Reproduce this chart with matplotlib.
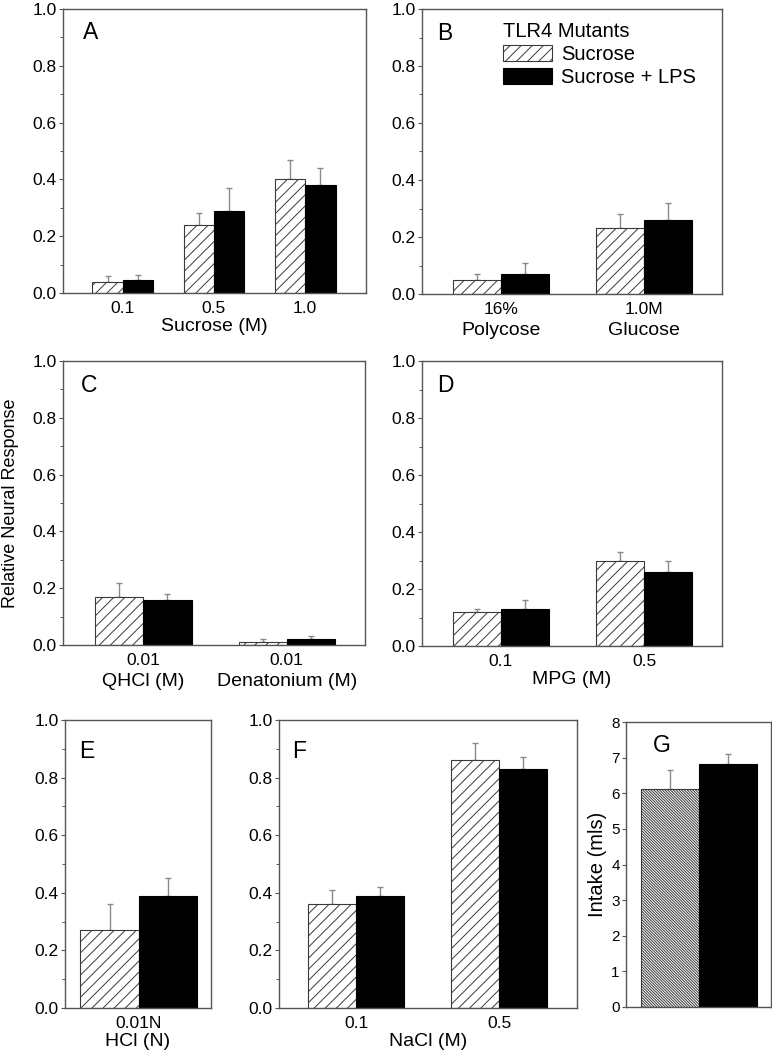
import numpy as np
import matplotlib
matplotlib.use('Agg')
import matplotlib.pyplot as plt
from matplotlib.ticker import MultipleLocator, FormatStrFormatter

plt.rcParams['font.family'] = ['Liberation Sans', 'DejaVu Sans']
plt.rcParams['hatch.linewidth'] = 0.7

# dados
a_labels = ['0.1', '0.5', '1.0']
a_suc = [0.04, 0.24, 0.40]
a_suc_err = [0.02, 0.04, 0.07]
a_lps = [0.045, 0.29, 0.38]
a_lps_err = [0.02, 0.08, 0.06]

b_top = ['16%', '1.0M']
b_bottom = ['Polycose', 'Glucose']
b_suc = [0.05, 0.23]
b_suc_err = [0.02, 0.05]
b_lps = [0.07, 0.26]
b_lps_err = [0.04, 0.06]

c_top = ['0.01', '0.01']
c_bottom = ['QHCl (M)', 'Denatonium (M)']
c_suc = [0.17, 0.01]
c_suc_err = [0.05, 0.01]
c_lps = [0.16, 0.02]
c_lps_err = [0.02, 0.01]

d_labels = ['0.1', '0.5']
d_suc = [0.12, 0.30]
d_suc_err = [0.01, 0.03]
d_lps = [0.13, 0.26]
d_lps_err = [0.03, 0.04]

e_labels = ['0.01N']
e_suc = [0.27]
e_suc_err = [0.09]
e_lps = [0.39]
e_lps_err = [0.06]

f_labels = ['0.1', '0.5']
f_suc = [0.36, 0.86]
f_suc_err = [0.05, 0.06]
f_lps = [0.39, 0.83]
f_lps_err = [0.03, 0.04]

g_suc = [6.13]
g_suc_err = [0.52]
g_lps = [6.83]
g_lps_err = [0.27]

W, H = 772, 1050
fig = plt.figure(figsize=(W / 100, H / 100), dpi=100)


def caixa(l, t, r, b):
    return [l / W, 1 - b / H, (r - l) / W, (b - t) / H]


def estilo(ax):
    for s in ax.spines.values():
        s.set_color('#555555')
        s.set_linewidth(1.0)


def painel(pos, xs, suc, suc_err, lps, lps_err, largura, xlim, letra, dxy, hatch='///'):
    ax = fig.add_axes(caixa(*pos))
    xs = np.array(xs, dtype=float)
    b1 = ax.bar(xs - largura / 2, suc, largura, facecolor='white', edgecolor='#3a3a3a',
                linewidth=0.8, hatch=hatch, label='Sucrose', zorder=2)
    b2 = ax.bar(xs + largura / 2, lps, largura, facecolor='black', edgecolor='black',
                linewidth=0.8, label='Sucrose + LPS', zorder=2)
    zeros = np.zeros(len(xs))
    ax.errorbar(xs - largura / 2, suc, yerr=[zeros, suc_err], fmt='none', ecolor='#8a8a8a',
                elinewidth=1.0, capsize=2, capthick=1.0, zorder=1)
    ax.errorbar(xs + largura / 2, lps, yerr=[zeros, lps_err], fmt='none', ecolor='#8a8a8a',
                elinewidth=1.0, capsize=2, capthick=1.0, zorder=1)
    ax.set_xlim(*xlim)
    ax.set_xticks(xs)
    ax.tick_params(axis='x', length=0, pad=6, labelsize=12.5)
    estilo(ax)
    pw = pos[2] - pos[0]
    ph = pos[3] - pos[1]
    ax.text(dxy[0] / pw, 1 - dxy[1] / ph, letra, transform=ax.transAxes,
            ha='center', va='center', fontsize=16.5)
    return ax, b1, b2


def eixo_y(ax):
    ax.set_ylim(0, 1.0)
    ax.yaxis.set_major_locator(MultipleLocator(0.2))
    ax.yaxis.set_minor_locator(MultipleLocator(0.1))
    ax.yaxis.set_major_formatter(FormatStrFormatter('%.1f'))
    ax.tick_params(axis='y', which='major', direction='out', length=3, width=0.8,
                   color='#555555', pad=1.5, labelsize=12.5)
    ax.tick_params(axis='y', which='minor', direction='out', length=2, width=0.7,
                   color='#555555')


def segunda_linha(ax, xs, textos):
    for x, t in zip(xs, textos):
        ax.annotate(t, xy=(x, 0), xycoords=('data', 'axes fraction'),
                    xytext=(0, -26), textcoords='offset points',
                    ha='center', va='center', fontsize=14)


# A
axA, _, _ = painel((63, 9, 366, 293), [1, 2, 3], a_suc, a_suc_err, a_lps, a_lps_err,
                   1 / 3, (0.344, 3.667), 'A', (28, 24))
eixo_y(axA)
axA.set_xticklabels(a_labels)
axA.set_xlabel('Sucrose (M)', fontsize=14, labelpad=1)

# B
axB, b1, b2 = painel((422, 9, 722, 294), [1, 2], b_suc, b_suc_err, b_lps, b_lps_err,
                     0.336, (0.448, 2.545), 'B', (22.5, 24))
eixo_y(axB)
axB.set_xticklabels(b_top)
segunda_linha(axB, [1, 2], b_bottom)
leg = axB.legend(handles=[b1, b2], title='TLR4 Mutants', loc='upper left',
                 bbox_to_anchor=(0.27, 0.955), frameon=False, fontsize=14.5,
                 title_fontsize=14.5, handlelength=2.44, handleheight=0.8,
                 handletextpad=0.45, labelspacing=0.2, borderpad=0, borderaxespad=0,
                 alignment='left')

# C
axC, _, _ = painel((63, 361, 365, 645), [1, 2], c_suc, c_suc_err, c_lps, c_lps_err,
                   0.336, (0.44, 2.545), 'C', (26, 25))
eixo_y(axC)
axC.set_xticklabels(c_top)
segunda_linha(axC, [1, 2], c_bottom)

# D
axD, _, _ = painel((422, 361, 722, 646), [1, 2], d_suc, d_suc_err, d_lps, d_lps_err,
                   0.336, (0.448, 2.545), 'D', (23, 25))
eixo_y(axD)
axD.set_xticklabels(d_labels)
axD.set_xlabel('MPG (M)', fontsize=14, labelpad=1)

# E
axE, _, _ = painel((65, 720, 211, 1008), [0], e_suc, e_suc_err, e_lps, e_lps_err,
                   0.4, (-0.505, 0.495), 'E', (21.5, 31))
eixo_y(axE)
axE.set_xticklabels(e_labels)
axE.set_xlabel('HCl (N)', fontsize=14, labelpad=1)

# F
axF, _, _ = painel((279, 720, 577, 1008), [1, 2], f_suc, f_suc_err, f_lps, f_lps_err,
                   0.336, (0.46, 2.545), 'F', (20.6, 31))
eixo_y(axF)
axF.set_xticklabels(f_labels)
axF.set_xlabel('NaCl (M)', fontsize=14, labelpad=1)

# G
axG, _, _ = painel((626, 722, 771, 1007), [0], g_suc, g_suc_err, g_lps, g_lps_err,
                   0.4, (-0.503, 0.497), 'G', (36, 24), hatch='\\' * 12)
axG.set_ylim(0, 8)
axG.yaxis.set_major_locator(MultipleLocator(1))
axG.yaxis.set_major_formatter(FormatStrFormatter('%d'))
axG.set_xticks([])
axG.tick_params(axis='y', direction='out', length=3, width=0.8, color='#555555', pad=1.5)
for t in axG.get_yticklabels():
    t.set_family(['Liberation Sans Narrow', 'Liberation Sans'])
    t.set_fontsize(11)
axG.set_ylabel('Intake (mls)', fontsize=14.5, labelpad=3)

fig.text(11 / W, 1 - 503 / H, 'Relative Neural Response', rotation=90,
         ha='center', va='center', fontsize=13)

fig.savefig('out.png', dpi=100)
